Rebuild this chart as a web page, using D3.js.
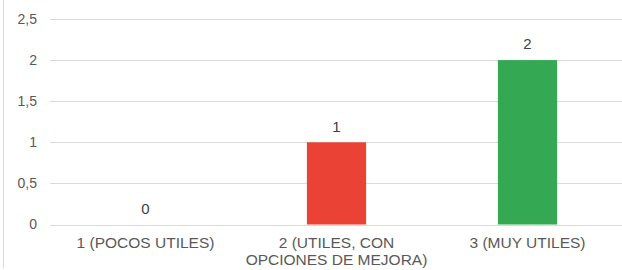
<!DOCTYPE html>
<html>
<head>
<meta charset="utf-8">
<script src="https://cdnjs.cloudflare.com/ajax/libs/d3/7.8.5/d3.min.js"></script>
<style>
  html, body { margin: 0; padding: 0; background: #fff; }
  svg { display: block; }
</style>
</head>
<body>
<div id="chart"></div>
<script>
// data
const categories = ['1 (POCOS UTILES)', '2 (UTILES, CON OPCIONES DE MEJORA)', '3 (MUY UTILES)'];
const categoryLines = [['1 (POCOS UTILES)'], ['2 (UTILES, CON', 'OPCIONES DE MEJORA)'], ['3 (MUY UTILES)']];
const values = [0, 1, 2];
const barColors = ['#4285f4', '#ea4335', '#34a853'];
const yTicks = [0, 0.5, 1, 1.5, 2, 2.5];

const W = 622, H = 270;
const margin = { top: 19, right: 0, bottom: 45.5, left: 50 };
const FONT = 'Arial, "Liberation Sans", sans-serif';

const svg = d3.select('#chart').append('svg')
  .attr('width', W).attr('height', H);

// left border line
svg.append('line')
  .attr('x1', 3.5).attr('x2', 3.5).attr('y1', 0).attr('y2', 268)
  .attr('stroke', '#d9d9d9').attr('stroke-width', 1);

const x = d3.scaleBand()
  .domain(categories)
  .range([margin.left, 623])
  .paddingInner(0.69)
  .paddingOuter(0.345);

const y = d3.scaleLinear()
  .domain([0, 2.5])
  .range([H - margin.bottom, margin.top]);

const fmt = d => String(d).replace('.', ',');

// gridlines
svg.append('g')
  .selectAll('line')
  .data(yTicks)
  .enter().append('line')
    .attr('x1', margin.left).attr('x2', W)
    .attr('y1', d => Math.round(y(d)) + 0.5)
    .attr('y2', d => Math.round(y(d)) + 0.5)
    .attr('stroke', '#d9d9d9').attr('stroke-width', 1);

// y tick labels
svg.append('g')
  .selectAll('text')
  .data(yTicks)
  .enter().append('text')
    .attr('x', 37)
    .attr('y', d => y(d))
    .attr('dy', '0.35em')
    .attr('text-anchor', 'end')
    .attr('font-family', FONT)
    .attr('font-size', '14px')
    .attr('fill', '#595959')
    .text(fmt);

// bars
svg.append('g')
  .selectAll('rect')
  .data(values)
  .enter().append('rect')
    .attr('x', (d, i) => x(categories[i]))
    .attr('y', d => y(d))
    .attr('width', x.bandwidth())
    .attr('height', d => y(0) - y(d))
    .attr('fill', (d, i) => barColors[i]);

// value labels
svg.append('g')
  .selectAll('text')
  .data(values)
  .enter().append('text')
    .attr('x', (d, i) => x(categories[i]) + x.bandwidth() / 2)
    .attr('y', d => y(d) - 16)
    .attr('dy', '0.35em')
    .attr('text-anchor', 'middle')
    .attr('font-family', FONT)
    .attr('font-size', '15px')
    .attr('fill', '#404040')
    .text(d => d);

// category labels
const cat = svg.append('g')
  .selectAll('text')
  .data(categories)
  .enter().append('text')
    .attr('text-anchor', 'middle')
    .attr('font-family', FONT)
    .attr('font-size', '15.5px')
    .attr('fill', '#595959');
cat.each(function(d, i) {
  const t = d3.select(this);
  categoryLines[i].forEach((line, j) => {
    t.append('tspan')
      .attr('x', x(d) + x.bandwidth() / 2)
      .attr('y', y(0) + 18.5 + j * 17)
      .attr('dy', '0.35em')
      .text(line);
  });
});
</script>
</body>
</html>
